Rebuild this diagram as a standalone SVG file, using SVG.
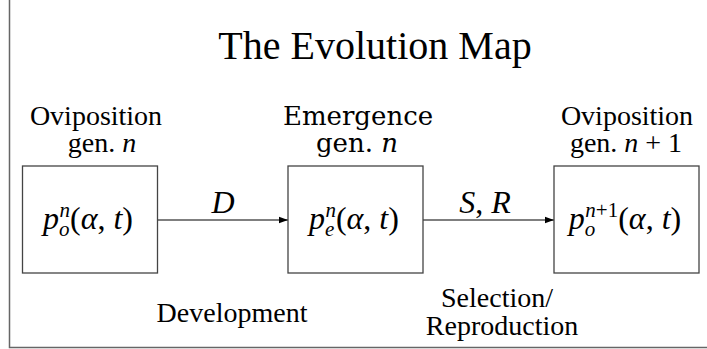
<svg xmlns="http://www.w3.org/2000/svg" width="707" height="349" viewBox="0 0 707 349">
<defs>
<marker id="ah" markerWidth="10" markerHeight="8" refX="9" refY="4" orient="auto" markerUnits="userSpaceOnUse">
<path d="M0,0.8 L9,4 L0,7.2 Z" fill="#000"/>
</marker>
</defs>
<rect width="707" height="349" fill="#fff"/>
<path d="M9.5,0 V347.5 H707" stroke="#666" stroke-width="1.5" fill="none"/>
<text font-family="serif" font-size="40" x="375" y="59" text-anchor="middle">The Evolution Map</text>
<g id="connectors">
<line stroke="#000" stroke-width="1.2" x1="157.5" y1="220" x2="288" y2="220" marker-end="url(#ah)"/>
<text font-family="Times New Roman" font-size="32" font-style="italic" x="223" y="213" text-anchor="middle">D</text>
<line stroke="#000" stroke-width="1.2" x1="423" y1="220" x2="554" y2="220" marker-end="url(#ah)"/>
<text font-family="Times New Roman" font-size="32" x="485" y="213" text-anchor="middle"><tspan font-style="italic">S</tspan>, <tspan font-style="italic">R</tspan></text>
<text font-family="Times New Roman" font-size="28" x="232" y="322" text-anchor="middle">Development</text>
<text font-family="serif" font-size="28" x="497" y="307" text-anchor="middle">Selection/</text>
<text font-family="serif" font-size="28" x="502" y="335" text-anchor="middle">Reproduction</text>
</g>
<g id="node-oviposition-n">
<text font-family="Liberation Serif" font-size="28" x="96" y="125" text-anchor="middle">Oviposition</text>
<text font-family="Liberation Serif" font-size="28" x="102" y="152" text-anchor="middle">gen. <tspan font-style="italic">n</tspan></text>
<rect x="22.5" y="166" width="135" height="107" fill="#fff" stroke="#444" stroke-width="1.3"/>
<text font-family="Times New Roman" font-size="32" x="88" y="229" text-anchor="middle"><tspan font-style="italic">p</tspan><tspan font-size="21" font-style="italic" dy="7">o</tspan><tspan font-size="21" font-style="italic" dx="-10" dy="-19">n</tspan><tspan dy="12">(</tspan><tspan font-style="italic">&#945;</tspan>, <tspan font-style="italic">t</tspan>)</text>
</g>
<g id="node-emergence-n">
<text font-family="DejaVu Serif" font-size="26" x="358" y="125" text-anchor="middle">Emergence</text>
<text font-family="DejaVu Serif" font-size="26" x="357" y="152" text-anchor="middle">gen. <tspan font-style="italic">n</tspan></text>
<rect x="288" y="166" width="135" height="107" fill="#fff" stroke="#444" stroke-width="1.3"/>
<text font-family="serif" font-size="32" x="354" y="229" text-anchor="middle"><tspan font-style="italic">p</tspan><tspan font-size="21" font-style="italic" dy="7">e</tspan><tspan font-size="21" font-style="italic" dx="-9" dy="-19">n</tspan><tspan dy="12">(</tspan><tspan font-style="italic">&#945;</tspan>, <tspan font-style="italic">t</tspan>)</text>
</g>
<g id="node-oviposition-n1">
<text font-family="Liberation Serif" font-size="28" x="627" y="125" text-anchor="middle">Oviposition</text>
<text font-family="Liberation Serif" font-size="28" x="626" y="152" text-anchor="middle">gen. <tspan font-style="italic">n</tspan> + 1</text>
<rect x="554" y="166" width="145" height="107" fill="#fff" stroke="#444" stroke-width="1.3"/>
<text font-family="Liberation Serif" font-size="32" x="625" y="229" text-anchor="middle"><tspan font-style="italic">p</tspan><tspan font-size="21" font-style="italic" dy="7">o</tspan><tspan font-size="21" font-style="italic" dx="-10" dy="-19">n</tspan><tspan font-size="21">+1</tspan><tspan dy="12">(</tspan><tspan font-style="italic">&#945;</tspan>, <tspan font-style="italic">t</tspan>)</text>
</g>
</svg>
